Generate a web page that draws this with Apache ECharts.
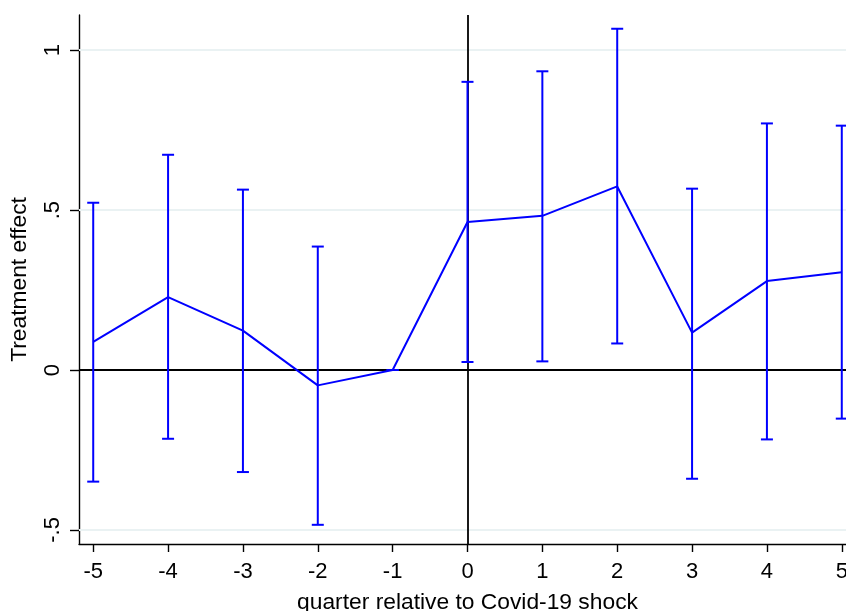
<!DOCTYPE html>
<html>
<head>
<meta charset="utf-8">
<script src="https://cdn.jsdelivr.net/npm/echarts@6/dist/echarts.min.js"></script>
<style>html,body{margin:0;padding:0;background:#fff}#c{width:846px;height:611px}</style>
</head>
<body>
<div id="c"></div>
<script>
const quarters = [-5, -4, -3, -2, -1, 0, 1, 2, 3, 4, 5];
const coef  = [0.088, 0.228, 0.123, -0.048, 0, 0.463, 0.482, 0.574, 0.117, 0.278, 0.306];
const upper = [0.523, 0.673, 0.564, 0.386, 0, 0.901, 0.934, 1.067, 0.567, 0.771, 0.764];
const lower = [-0.349, -0.215, -0.319, -0.484, 0, 0.025, 0.027, 0.083, -0.340, -0.217, -0.152];
const yTicks = [-0.5, 0, 0.5, 1];
const xTicks = [-5, -4, -3, -2, -1, 0, 1, 2, 3, 4, 5];

const chart = echarts.init(document.getElementById('c'), null, {renderer: 'canvas'});
const font = '"Liberation Sans", Arial, sans-serif';
const fmtY = v => {
  if (v === 0) return '0';
  let s = String(v);
  return s.replace(/^(-?)0\./, '$1.');
};
const ciData = quarters.map((q, i) => [q, lower[i], upper[i]]);
const lineData = quarters.map((q, i) => [q, coef[i]]);

chart.setOption({
  animation: false,
  backgroundColor: '#fff',
  grid: {left: 79, right: -10, top: 15, bottom: 67, containLabel: false, outerBoundsMode: 'none'},
  xAxis: {
    type: 'value', min: -5.19, max: 5.19,
    name: 'quarter relative to Covid-19 shock', nameLocation: 'middle', nameGap: 47,
    nameTextStyle: {fontFamily: font, fontSize: 22.8, color: '#000'},
    axisLine: {onZero: false, lineStyle: {color: '#000', width: 1.4}},
    axisTick: {show: true, length: 8, customValues: xTicks, lineStyle: {color: '#000', width: 1.4}},
    axisLabel: {customValues: xTicks, fontFamily: font, fontSize: 22, color: '#000', margin: 17},
    splitLine: {show: false}
  },
  yAxis: {
    type: 'value', min: -0.544, max: 1.11,
    name: 'Treatment effect', nameLocation: 'middle', nameGap: 48,
    nameTextStyle: {fontFamily: font, fontSize: 22.8, color: '#000'},
    axisLine: {show: true, onZero: false, lineStyle: {color: '#000', width: 1.4}},
    axisTick: {show: true, length: 9, customValues: yTicks, lineStyle: {color: '#000', width: 1.4}},
    axisLabel: {customValues: yTicks, rotate: 90, fontFamily: font, fontSize: 22, color: '#000', margin: 15, formatter: fmtY},
    splitLine: {show: false}
  },
  series: [
    {
      type: 'line', data: [], z: 1, silent: true,
      markLine: {
        silent: true, symbol: 'none', label: {show: false}, animation: false, z: 1,
        lineStyle: {color: '#eaf2f3', width: 2, type: 'solid'},
        data: yTicks.filter(v => v !== 0).map(v => ({yAxis: v}))
      }
    },
    {
      type: 'line', data: [], z: 2, silent: true,
      markLine: {
        silent: true, symbol: 'none', label: {show: false}, animation: false, z: 2,
        lineStyle: {color: '#000', width: 1.8, type: 'solid'},
        data: [{yAxis: 0}, {xAxis: 0}]
      }
    },
    {
      type: 'custom', z: 10, silent: true,
      data: ciData,
      renderItem: function (params, api) {
        const x = api.value(0);
        const lo = api.coord([x, api.value(1)]);
        const hi = api.coord([x, api.value(2)]);
        const hw = 6;
        const st = {stroke: '#0000ff', lineWidth: 2};
        return {
          type: 'group',
          children: [
            {type: 'line', shape: {x1: lo[0], y1: lo[1], x2: hi[0], y2: hi[1]}, style: st},
            {type: 'line', shape: {x1: lo[0] - hw, y1: lo[1], x2: lo[0] + hw, y2: lo[1]}, style: st},
            {type: 'line', shape: {x1: hi[0] - hw, y1: hi[1], x2: hi[0] + hw, y2: hi[1]}, style: st}
          ]
        };
      }
    },
    {
      type: 'line', z: 11, silent: true,
      data: lineData, showSymbol: false, symbol: 'none',
      lineStyle: {color: '#0000ff', width: 2}
    }
  ]
});
</script>
</body>
</html>
